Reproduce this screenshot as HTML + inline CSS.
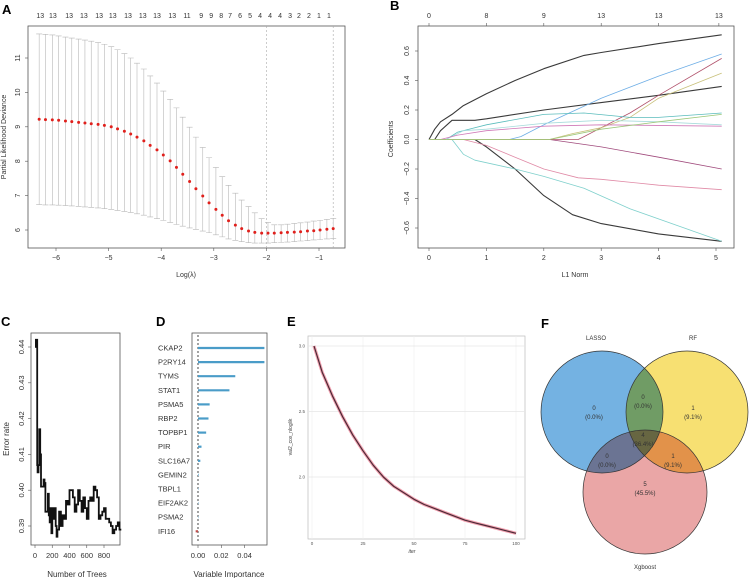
<!DOCTYPE html>
<html><head><meta charset="utf-8"><style>
html,body{margin:0;padding:0;background:#fff;}
svg{display:block;font-family:"Liberation Sans",sans-serif;}
</style></head><body>
<svg id="fig" width="749" height="578" viewBox="0 0 749 578" xmlns="http://www.w3.org/2000/svg">
<rect x="0" y="0" width="749" height="578" fill="#fff"/>
<text x="2" y="14" font-size="13" font-weight="bold">A</text>
<text x="390" y="10" font-size="13" font-weight="bold">B</text>
<text x="1" y="326" font-size="13" font-weight="bold">C</text>
<text x="156" y="326" font-size="13" font-weight="bold">D</text>
<text x="287" y="326" font-size="13" font-weight="bold">E</text>
<text x="541" y="328" font-size="13" font-weight="bold">F</text>
<g id="pa">
<rect x="28" y="26" width="317" height="222" fill="none" stroke="#555" stroke-width="0.8"/>
<text x="186" y="277" font-size="7" text-anchor="middle" fill="#333">Log(λ)</text>
<text transform="translate(6,137) rotate(-90)" font-size="7" text-anchor="middle" fill="#333">Partial Likelihood Deviance</text>
</g>
<g id="pb">
<rect x="418" y="26" width="316" height="222" fill="none" stroke="#555" stroke-width="0.8"/>
<text x="575" y="277" font-size="7" text-anchor="middle" fill="#333">L1 Norm</text>
<text transform="translate(393,139) rotate(-90)" font-size="7" text-anchor="middle" fill="#333">Coefficients</text>
</g>
<g id="pc">
<rect x="31" y="333" width="89" height="212" fill="none" stroke="#555" stroke-width="0.8"/>
<text x="77" y="577" font-size="8" text-anchor="middle" fill="#333">Number of Trees</text>
<text transform="translate(9,439) rotate(-90)" font-size="8" text-anchor="middle" fill="#333">Error rate</text>
</g>
<g id="pd">
<rect x="192" y="333" width="75" height="212" fill="none" stroke="#555" stroke-width="0.8"/>
<text x="229" y="577" font-size="8" text-anchor="middle" fill="#333">Variable Importance</text>
</g>
<g id="pe">
<rect x="308" y="336" width="217" height="203" fill="#fff" stroke="#bbb" stroke-width="0.7"/>
<text x="412" y="553" font-size="5" font-style="italic" text-anchor="middle" fill="#444">iter</text>
<text transform="translate(292,437) rotate(-90)" font-size="5" text-anchor="middle" fill="#444">val2_cox_nloglik</text>
</g>
<g id="pf">
<g style="isolation:isolate">
<circle cx="602" cy="412" r="61" fill="#74b2e2"/>
<circle cx="687" cy="412" r="61" fill="#f7e072" style="mix-blend-mode:multiply"/>
<circle cx="645" cy="492" r="62" fill="#eaa6a6" style="mix-blend-mode:multiply"/>
</g>
<circle cx="602" cy="412" r="61" fill="none" stroke="#333" stroke-width="0.7"/>
<circle cx="687" cy="412" r="61" fill="none" stroke="#333" stroke-width="0.7"/>
<circle cx="645" cy="492" r="62" fill="none" stroke="#333" stroke-width="0.7"/>
<text x="596" y="340" font-size="6" text-anchor="middle" fill="#333">LASSO</text>
<text x="693" y="340" font-size="6" text-anchor="middle" fill="#333">RF</text>
<text x="645" y="569" font-size="6" text-anchor="middle" fill="#333">Xgboost</text>
<g font-size="6" text-anchor="middle" fill="#333">
<text x="594" y="410">0</text><text x="594" y="419">(0.0%)</text>
<text x="643" y="399">0</text><text x="643" y="408">(0.0%)</text>
<text x="693" y="410">1</text><text x="693" y="419">(9.1%)</text>
<text x="643" y="437">4</text><text x="643" y="446">(36.4%)</text>
<text x="607" y="458">0</text><text x="607" y="467">(0.0%)</text>
<text x="673" y="458">1</text><text x="673" y="467">(9.1%)</text>
<text x="645" y="486">5</text><text x="645" y="495">(45.5%)</text>
</g>
</g>
</svg>
<script>
const aLogLambda = [-6.32,-6.20,-6.07,-5.95,-5.82,-5.70,-5.57,-5.45,-5.33,-5.20,-5.08,-4.95,-4.83,-4.70,-4.58,-4.46,-4.33,-4.21,-4.08,-3.96,-3.83,-3.71,-3.59,-3.46,-3.34,-3.21,-3.09,-2.96,-2.84,-2.72,-2.59,-2.47,-2.34,-2.22,-2.09,-1.97,-1.85,-1.72,-1.60,-1.47,-1.35,-1.22,-1.10,-0.98,-0.85,-0.73];
const aMean = [9.22,9.21,9.20,9.19,9.17,9.15,9.13,9.11,9.09,9.07,9.04,9.00,8.94,8.87,8.79,8.70,8.59,8.46,8.33,8.18,8.01,7.82,7.62,7.41,7.20,6.99,6.79,6.60,6.43,6.27,6.14,6.04,5.97,5.93,5.91,5.91,5.91,5.92,5.93,5.94,5.95,5.97,5.98,6.00,6.02,6.04];
const aUpper = [11.70,11.69,11.67,11.64,11.61,11.58,11.55,11.52,11.49,11.45,11.40,11.33,11.24,11.13,11.00,10.85,10.68,10.48,10.27,10.04,9.80,9.55,9.28,8.99,8.70,8.40,8.10,7.82,7.55,7.30,7.07,6.87,6.68,6.50,6.33,6.22,6.15,6.15,6.17,6.19,6.21,6.23,6.26,6.28,6.31,6.33];
const aLower = [6.74,6.73,6.73,6.72,6.71,6.70,6.69,6.67,6.66,6.64,6.62,6.60,6.57,6.54,6.51,6.47,6.43,6.38,6.33,6.28,6.22,6.16,6.11,6.06,6.02,5.97,5.92,5.86,5.80,5.74,5.70,5.66,5.63,5.62,5.62,5.62,5.63,5.64,5.65,5.66,5.68,5.69,5.71,5.72,5.74,5.75];
const aTopPos = [-6.30,-6.06,-5.75,-5.47,-5.18,-4.92,-4.63,-4.35,-4.08,-3.79,-3.51,-3.24,-3.05,-2.86,-2.69,-2.50,-2.31,-2.12,-1.93,-1.74,-1.55,-1.38,-1.19,-1.00,-0.81];
const aTopLabels = ["13","13","13","13","13","13","13","13","13","13","11","9","9","8","7","6","5","4","4","4","3","2","2","1","1"];
const aXTicks = [-6,-5,-4,-3,-2,-1];
const aYTicks = [6,7,8,9,10,11];
const aVLines = [-2,-0.73];
const bXTicks = [0,1,2,3,4,5];
const bYTicks = [-0.6,-0.4,-0.2,0.0,0.2,0.4,0.6];
const bTopPos = [0,1,2,3,4,5.05];
const bTopLabels = ["0","8","9","13","13","13"];
const bColors = ["#3a3a3a","#3a3a3a","#3a3a3a","#7fd0cc","#e08aa6","#a04a7c","#6eaee6","#b0506a","#c8c07a","#5abcbc","#a8dcdc","#d07ab8","#9cc87a"];
const bPathL1 = [
 [0,0.1,0.2,0.4,0.6,1,1.5,2,2.7,3,4,5.1],
 [0.1,0.2,0.4,0.8,1,2,3,4,5.1],
 [0.8,1,1.5,2,2.5,3,4,5.1],
 [0.4,0.6,0.8,1.5,2,2.7,3.5,5.1],
 [0.6,1,1.5,2,2.6,3,4,5.1],
 [0,2.1,3,4,5.1],
 [0,1.4,1.6,2,3,4,5.1],
 [0,2.6,2.7,3,3.5,4,5.1],
 [0,2.1,2.5,3,3.5,4,5.1],
 [0.3,0.5,1,2,2.7,3.5,4,5.1],
 [0.3,0.6,1,2,3,4,5.1],
 [0.2,0.5,1,2,3,5.1],
 [0,2.1,3,4,5.1]
];
const bPathCoef = [
 [0,0.07,0.12,0.17,0.23,0.31,0.40,0.48,0.57,0.59,0.65,0.71],
 [0,0.06,0.13,0.13,0.14,0.20,0.25,0.30,0.36],
 [0,-0.05,-0.20,-0.38,-0.51,-0.57,-0.64,-0.69],
 [0,-0.10,-0.14,-0.20,-0.25,-0.33,-0.47,-0.69],
 [0,-0.04,-0.12,-0.20,-0.26,-0.27,-0.31,-0.34],
 [0,0,-0.05,-0.12,-0.20],
 [0,0,0.02,0.10,0.28,0.43,0.58],
 [0,0,0.02,0.08,0.18,0.30,0.55],
 [0,0,0.04,0.08,0.15,0.28,0.45],
 [0,0.05,0.10,0.17,0.18,0.15,0.15,0.18],
 [0,0.06,0.07,0.11,0.13,0.12,0.10],
 [0,0.03,0.06,0.09,0.10,0.09],
 [0,0,0.07,0.12,0.17]
];
const cTrees = [1,10,20,25,30,40,50,60,70,80,100,110,120,140,150,160,170,180,190,200,210,220,240,250,260,280,300,320,340,360,380,400,420,440,460,480,500,520,540,560,580,600,620,640,660,680,700,720,740,760,780,800,820,840,860,880,900,920,940,960,980,1000];
const cError = [0.440,0.442,0.442,0.407,0.405,0.407,0.417,0.410,0.401,0.401,0.403,0.402,0.394,0.394,0.399,0.393,0.391,0.395,0.388,0.395,0.392,0.395,0.390,0.387,0.389,0.394,0.390,0.393,0.392,0.397,0.396,0.400,0.400,0.398,0.394,0.396,0.400,0.397,0.394,0.398,0.395,0.392,0.397,0.398,0.397,0.401,0.400,0.398,0.392,0.393,0.394,0.395,0.392,0.392,0.391,0.390,0.388,0.389,0.390,0.391,0.389,0.389];
const cXTicks = [0,200,400,600,800];
const cYTicks = [0.39,0.40,0.41,0.42,0.43,0.44];
const dGenes = ["CKAP2","P2RY14","TYMS","STAT1","PSMA5","RBP2","TOPBP1","PIR","SLC16A7","GEMIN2","TBPL1","EIF2AK2","PSMA2","IFI16"];
const dImportance = [0.057,0.057,0.032,0.027,0.010,0.009,0.007,0.003,0.002,0.0005,0.0003,0.0003,0.0003,-0.002];
const dXTicks = [0.00,0.02,0.04];
const dTickLabels = ["0.00","0.02","0.04"];
const eIter = [1,5,10,15,20,25,30,35,40,45,50,55,60,65,70,75,80,85,90,95,100];
const eLoss = [3.00,2.80,2.62,2.46,2.32,2.20,2.09,2.00,1.93,1.88,1.83,1.79,1.76,1.73,1.70,1.67,1.65,1.63,1.61,1.59,1.57];
const eXTicks = [0,25,50,75,100];
const eYTicks = [2.0,2.5,3.0];
const eYTickLabels = ["2.0","2.5","3.0"];

const NS = "http://www.w3.org/2000/svg";
function mk(parent, tag, attrs, txt){
  const el = document.createElementNS(NS, tag);
  for (const k in attrs) el.setAttribute(k, attrs[k]);
  if (txt !== undefined) el.textContent = txt;
  parent.appendChild(el);
  return el;
}
const ax = v => 56 + (v + 6) * 52.6;
const ay = v => 230 - (v - 6) * 34.4;
const bx = v => 429 + v * 57.4;
const by = v => 139.5 - v * 147.5;
const cx = v => 35 + v * 0.08625;
const cy = v => 526 - (v - 0.39) * 3580;
const dx = v => 198 + v * 1165;
const dy = i => 348 + i * 14.1;
const ex = v => 312 + v * 2.04;
const ey = v => 477 - (v - 2) * 131;

const pa = document.getElementById('pa');
aVLines.forEach((v,i)=>{
  const el = mk(pa,'line',{x1:ax(v),x2:ax(v),y1:26,y2:248,stroke:'#aaa','stroke-width':0.6,'stroke-dasharray':'2,2'});
  
  
});
aLogLambda.forEach((v,i)=>{
  const x = ax(v);
  const el = mk(pa,'path',{d:`M${x},${ay(aLower[i])}V${ay(aUpper[i])}M${x-3},${ay(aUpper[i])}H${x+3}M${x-3},${ay(aLower[i])}H${x+3}`,stroke:'#b8b8b8','stroke-width':0.6,fill:'none'});
  
  
});
aLogLambda.forEach((v,i)=>{
  const el = mk(pa,'circle',{cx:ax(v),cy:ay(aMean[i]),r:1.5,fill:'#e0201c'});
  
  
});
aXTicks.forEach(v=>{
  const t = mk(pa,'line',{x1:ax(v),x2:ax(v),y1:248,y2:251,stroke:'#555','stroke-width':0.6});
  
  
  const l = mk(pa,'text',{x:ax(v),y:260,'font-size':7,'text-anchor':'middle',fill:'#333'},'\u2212'+Math.abs(v));
  
  
});
aYTicks.forEach(v=>{
  const t = mk(pa,'line',{x1:25,x2:28,y1:ay(v),y2:ay(v),stroke:'#555','stroke-width':0.6});
  
  
  const l = mk(pa,'text',{transform:`translate(20,${ay(v)}) rotate(-90)`,'font-size':7,'text-anchor':'middle',fill:'#333'},String(v));
  
  
});
aTopPos.forEach((v,i)=>{
  const l = mk(pa,'text',{x:ax(v),y:18,'font-size':7,'text-anchor':'middle',fill:'#333'},aTopLabels[i]);
  
  
});

const pb = document.getElementById('pb');
bPathL1.forEach((xs,k)=>{
  const d = xs.map((v,i)=>(i?'L':'M')+bx(v).toFixed(1)+','+by(bPathCoef[k][i]).toFixed(1)).join('');
  const el = mk(pb,'path',{d:d,fill:'none',stroke:bColors[k],'stroke-width':k<3?1.1:0.8,'stroke-linejoin':'round'});
  
  
});
bXTicks.forEach(v=>{
  const t = mk(pb,'line',{x1:bx(v),x2:bx(v),y1:248,y2:251,stroke:'#555','stroke-width':0.6});
  
  
  const l = mk(pb,'text',{x:bx(v),y:260,'font-size':7,'text-anchor':'middle',fill:'#333'},String(v));
  
  
});
bTopPos.forEach((v,i)=>{
  const t = mk(pb,'line',{x1:bx(v),x2:bx(v),y1:23,y2:26,stroke:'#555','stroke-width':0.6});
  
  
  const l = mk(pb,'text',{x:bx(v),y:18,'font-size':7,'text-anchor':'middle',fill:'#333'},bTopLabels[i]);
  
  
});
bYTicks.forEach(v=>{
  const t = mk(pb,'line',{x1:415,x2:418,y1:by(v),y2:by(v),stroke:'#555','stroke-width':0.6});
  
  
  const l = mk(pb,'text',{transform:`translate(409,${by(v)}) rotate(-90)`,'font-size':7,'text-anchor':'middle',fill:'#333'},v.toFixed(1).replace('-','\u2212'));
  
  
});

const pc = document.getElementById('pc');
{
  let d = 'M'+cx(cTrees[0])+','+cy(cError[0]);
  for (let i=1;i<cTrees.length;i++){ d += 'H'+cx(cTrees[i]).toFixed(1)+'V'+cy(cError[i]).toFixed(1); }
  const el = mk(pc,'path',{d:d,fill:'none',stroke:'#111','stroke-width':1.8});
  
  
}
cXTicks.forEach(v=>{
  const t = mk(pc,'line',{x1:cx(v),x2:cx(v),y1:545,y2:548,stroke:'#555','stroke-width':0.6});
  
  
  const l = mk(pc,'text',{x:cx(v),y:558,'font-size':7.5,'text-anchor':'middle',fill:'#333'},String(v));
  
  
});
cYTicks.forEach(v=>{
  const t = mk(pc,'line',{x1:28,x2:31,y1:cy(v),y2:cy(v),stroke:'#555','stroke-width':0.6});
  
  
  const l = mk(pc,'text',{transform:`translate(24,${cy(v)}) rotate(-90)`,'font-size':7.5,'text-anchor':'middle',fill:'#333'},v.toFixed(2));
  
  
});

const pd = document.getElementById('pd');
{
  const el = mk(pd,'line',{x1:dx(0),x2:dx(0),y1:335,y2:543,stroke:'#333','stroke-width':0.9,'stroke-dasharray':'2,2'});
  
  
}
dGenes.forEach((g,i)=>{
  const v = dImportance[i];
  const b = mk(pd,'line',{x1:dx(0),x2:dx(v),y1:dy(i),y2:dy(i),stroke:v<0?'#c0504d':'#4a9cc8','stroke-width':2.2});
  
  
  const l = mk(pd,'text',{x:158,y:dy(i)+2.5,'font-size':7.5,fill:'#333'},g);
  
  
});
dXTicks.forEach((v,i)=>{
  const t = mk(pd,'line',{x1:dx(v),x2:dx(v),y1:545,y2:548,stroke:'#555','stroke-width':0.6});
  
  
  const l = mk(pd,'text',{x:dx(v),y:558,'font-size':7.5,'text-anchor':'middle',fill:'#333'},dTickLabels[i]);
  
  
});

const pe = document.getElementById('pe');
eXTicks.forEach(v=>{
  const g = mk(pe,'line',{x1:ex(v),x2:ex(v),y1:336,y2:539,stroke:'#eee','stroke-width':0.6});
  
  
  const l = mk(pe,'text',{x:ex(v),y:545,'font-size':4.5,'text-anchor':'middle',fill:'#555'},String(v));
  
  
});
eYTicks.forEach((v,i)=>{
  const g = mk(pe,'line',{x1:308,x2:525,y1:ey(v),y2:ey(v),stroke:'#e6e6e6','stroke-width':0.7});
  
  
  const l = mk(pe,'text',{x:305,y:ey(v)+1.5,'font-size':4.5,'text-anchor':'end',fill:'#555'},eYTickLabels[i]);
  
  
});
{
  const d = eIter.map((v,i)=>(i?'L':'M')+ex(v).toFixed(1)+','+ey(eLoss[i]).toFixed(1)).join('');
  const halo = mk(pe,'path',{d:d,fill:'none',stroke:'#f2a0b0','stroke-width':3.2,'stroke-linejoin':'round'});
  
  
  const ln = mk(pe,'path',{d:d,fill:'none',stroke:'#4a2a35','stroke-width':1.2,'stroke-linejoin':'round'});
  
  
}
</script>
</body></html>
